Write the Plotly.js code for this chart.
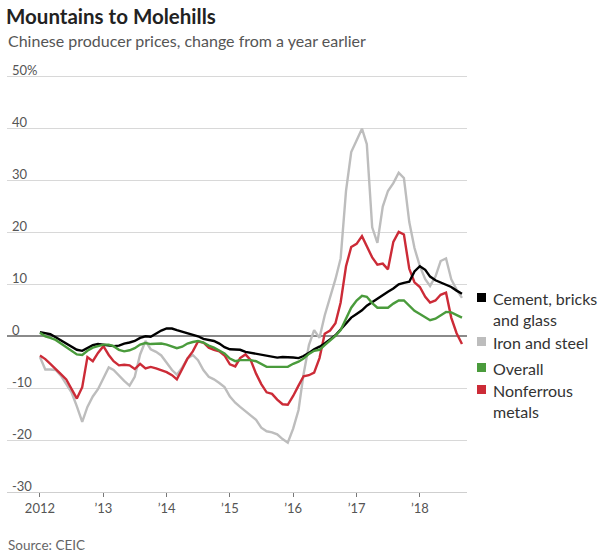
<!DOCTYPE html>
<html>
<head>
<meta charset="utf-8">
<script src="https://cdn.plot.ly/plotly-3.0.1.min.js"></script>
<style>
html,body{margin:0;padding:0;background:#fff;}
#chart{width:606px;height:557px;}
</style>
</head>
<body>
<div id="chart"></div>
<script>
// Monthly observations, Jan 2012 .. Sep 2018
const firstYear = 2012;
const monthCount = 81;
const months = [];
for (let i = 0; i < monthCount; i++) {
  const y = firstYear + Math.floor(i / 12);
  const m = (i % 12) + 1;
  months.push(y + '-' + (m < 10 ? '0' + m : m) + '-01');
}

const cement = [
  0.8, 0.6, 0.4, -0.2, -0.8, -1.4, -2.0, -2.6, -2.8, -2.3, -1.7, -1.5,
  -1.6, -1.8, -1.9, -1.8, -1.4, -1.2, -0.9, -0.3, 0.0, -0.1, 0.5, 1.1,
  1.5, 1.5, 1.2, 0.9, 0.7, 0.4, 0.0, -0.5, -0.7, -0.9, -1.4, -2.1,
  -2.5, -2.5, -2.6, -3.0, -3.2, -3.4, -3.6, -3.7, -4.0, -4.1, -4.0, -4.0,
  -4.1, -4.2, -3.8, -3.2, -2.5, -2.0, -1.4, -0.6, 0.2, 1.3, 2.4, 3.6,
  4.3, 5.0, 5.9, 6.6, 7.2, 8.0, 8.6, 9.2, 10.0, 10.3, 10.5, 12.5,
  13.5, 12.8, 11.5, 10.8, 10.4, 10.0, 9.5, 8.8, 8.2
];

const ironSteel = [
  -4.0, -6.4, -6.4, -6.5, -7.6, -9.1, -10.8, -13.5, -16.5, -13.6, -11.6, -10.2,
  -8.2, -6.0, -6.5, -7.6, -8.6, -9.5, -7.8, -3.5, -0.9, -2.5, -3.0, -3.7,
  -5.2, -6.5, -7.4, -6.0, -4.3, -3.6, -4.6, -6.5, -7.8, -8.3, -9.0, -9.8,
  -11.6, -12.8, -13.6, -14.5, -15.2, -16.1, -17.6, -18.3, -18.5, -18.9, -19.8, -20.5,
  -17.8, -14.2, -7.3, -1.7, 1.2, -0.3, 4.0, 7.5, 11.0, 15.0, 28.0, 35.5,
  37.8, 40.0, 37.0, 21.0, 18.0, 25.0, 28.0, 29.5, 31.5, 30.5, 22.0, 17.0,
  13.5, 11.0, 9.7, 11.5, 14.5, 15.0, 11.0, 9.0, 7.4
];

const overall = [
  0.7, 0.0, -0.3, -0.7, -1.4, -2.1, -2.9, -3.5, -3.6, -2.8, -2.2, -1.9,
  -1.6, -1.6, -1.9, -2.6, -2.9, -2.7, -2.3, -1.6, -1.3, -1.5, -1.4, -1.4,
  -1.6, -2.0, -2.3, -2.0, -1.4, -1.1, -0.9, -1.2, -1.8, -2.2, -2.7, -3.3,
  -4.3, -4.8, -4.6, -4.6, -4.6, -4.8, -5.4, -5.9, -5.9, -5.9, -5.9, -5.9,
  -5.3, -4.9, -4.3, -3.4, -2.8, -2.6, -1.7, -0.8, 0.1, 1.2, 3.3, 5.5,
  6.9, 7.8, 7.6, 6.4, 5.5, 5.5, 5.5, 6.3, 6.9, 6.9, 5.8, 4.9,
  4.3, 3.7, 3.1, 3.4, 4.1, 4.7, 4.6, 4.1, 3.6
];

const nonferrous = [
  -3.7, -4.4, -5.3, -6.4, -7.3, -8.3, -10.0, -12.0, -9.8, -4.0, -4.8, -3.2,
  -1.9, -3.6, -4.8, -5.6, -5.5, -5.6, -6.3, -5.3, -6.2, -5.9, -6.2, -6.5,
  -6.9, -7.5, -8.3, -6.3, -4.3, -2.9, -1.0, -1.2, -2.2, -2.6, -2.9, -3.7,
  -5.4, -5.8, -4.2, -3.5, -4.6, -7.2, -9.2, -10.8, -11.1, -12.2, -13.1, -13.2,
  -11.5, -9.5, -7.7, -7.5, -7.0, -4.2, 0.5, 1.1, 2.5, 6.5, 13.5, 17.2,
  17.8, 19.3, 17.2, 15.2, 13.8, 14.0, 12.9, 18.2, 20.1, 19.6, 13.0, 10.4,
  9.5, 7.6, 6.5, 6.9, 8.0, 8.4, 3.6, 0.6, -1.5
];

const xTickVals = ['2012-01-01','2013-01-01','2014-01-01','2015-01-01','2016-01-01','2017-01-01','2018-01-01'];
const xTickText = ['2012', "\u201913", "\u201914", "\u201915", "\u201916", "\u201917", "\u201918"];
const yTickVals = [-30, -20, -10, 0, 10, 20, 30, 40, 50];
const yTickText = ['-30', '-20', '-10', '0', '10', '20', '30', '40', '50%'];

const seriesNames = ['Cement, bricks and glass', 'Iron and steel', 'Overall', 'Nonferrous metals'];
const legendLabels = ['Cement, bricks<br>and glass', 'Iron and steel', 'Overall', 'Nonferrous<br>metals'];
const colors = {cement: '#000000', iron: '#bdbdbd', overall: '#4a9b3c', nonferrous: '#cc2b37'};

const FONT = 'Lato, "Open Sans", sans-serif';
const W = 606, H = 557;
const M = {l: 7, r: 139, t: 56, b: 65};
const PW = W - M.l - M.r, PH = H - M.t - M.b;
const px = x => (x - M.l) / PW;          // pixel -> paper x
const py = y => (H - M.b - y) / PH;      // pixel -> paper y

function line(y, name, color) {
  return {
    x: months, y: y, name: name, type: 'scatter', mode: 'lines',
    line: {color: color, width: 2.4, shape: 'linear'},
    hoverinfo: 'skip', showlegend: false
  };
}

const traces = [
  line(ironSteel, seriesNames[1], colors.iron),
  line(nonferrous, seriesNames[3], colors.nonferrous),
  line(cement, seriesNames[0], colors.cement),
  line(overall, seriesNames[2], colors.overall)
];

// legend swatches & labels (custom, right side)
const legendItems = [
  {label: legendLabels[0], color: colors.cement, cy: 297.5},
  {label: legendLabels[1], color: colors.iron, cy: 341.5},
  {label: legendLabels[2], color: colors.overall, cy: 367.5},
  {label: legendLabels[3], color: colors.nonferrous, cy: 389.5}
];
const shapes = [];
const annotations = [];
legendItems.forEach(it => {
  shapes.push({type: 'rect', xref: 'paper', yref: 'paper',
    x0: px(477), x1: px(486), y0: py(it.cy + 4.5), y1: py(it.cy - 4.5),
    fillcolor: it.color, line: {width: 0}});
  annotations.push({xref: 'paper', yref: 'paper', x: px(491), y: py(it.cy - 10.5),
    xanchor: 'left', yanchor: 'top', align: 'left', showarrow: false,
    text: it.label, font: {family: FONT, size: 16, color: '#333'}});
});

annotations.push({xref: 'paper', yref: 'paper', x: px(6), y: py(41), xanchor: 'left', yanchor: 'middle',
  showarrow: false, text: 'Chinese producer prices, change from a year earlier',
  font: {family: FONT, size: 16, color: '#555'}});
annotations.push({xref: 'paper', yref: 'paper', x: px(6), y: py(545), xanchor: 'left', yanchor: 'middle',
  showarrow: false, text: 'Source: CEIC',
  font: {family: FONT, size: 13.5, color: '#666'}});

const layout = {
  width: W, height: H,
  margin: M,
  paper_bgcolor: '#fff', plot_bgcolor: '#fff',
  font: {family: FONT, color: '#555'},
  title: {
    text: 'Mountains to Molehills',
    font: {family: FONT, size: 20.5, color: '#222', weight: 'bold'},
    xref: 'container', yref: 'container',
    x: 6 / W, xanchor: 'left', y: 1 - 17 / H, yanchor: 'middle'
  },
  showlegend: false,
  xaxis: {
    type: 'date', range: ['2011-06-25', '2018-09-30'],
    tickmode: 'array', tickvals: xTickVals, ticktext: xTickText,
    ticks: 'outside', ticklen: 4, tickwidth: 1, tickcolor: '#777',
    showgrid: false, zeroline: false,
    showline: true, linecolor: '#cfcfcf', linewidth: 1,
    tickfont: {family: FONT, size: 13, color: '#555'},
    fixedrange: true
  },
  yaxis: {
    range: [-30, 54],
    tickmode: 'array', tickvals: yTickVals, ticktext: yTickText,
    ticklabelposition: 'inside', ticklabelshift: -6, ticklabelstandoff: 2,
    ticklabeloverflow: 'allow', ticks: '',
    showgrid: true, gridcolor: '#d8d8d8', gridwidth: 1,
    zeroline: true, zerolinecolor: '#8a8a8a', zerolinewidth: 2,
    showline: false,
    tickfont: {family: FONT, size: 13, color: '#555'},
    fixedrange: true
  },
  shapes: shapes,
  annotations: annotations
};

Plotly.newPlot('chart', traces, layout, {displayModeBar: false, staticPlot: true});
</script>
</body>
</html>
